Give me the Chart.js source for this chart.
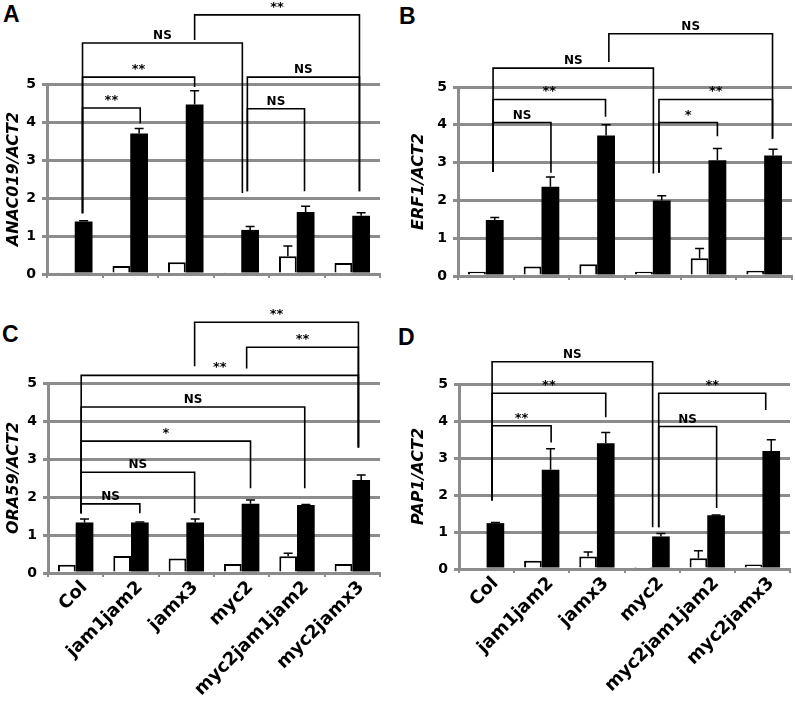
<!DOCTYPE html>
<html>
<head>
<meta charset="utf-8">
<script src="https://cdn.jsdelivr.net/npm/chart.js@4.4.1/dist/chart.umd.min.js"></script>
<style>
  body { margin: 0; background: #fff; width: 795px; height: 707px; position: relative; overflow: hidden; }
  canvas { position: absolute; }
  .letter { position: absolute; font: bold 23px "Liberation Sans", Arial, sans-serif; color: #000; }
</style>
</head>
<body>
<div class="letter" style="left:3px;top:1px">A</div>
<div class="letter" style="left:399px;top:3px">B</div>
<div class="letter" style="left:2px;top:321px">C</div>
<div class="letter" style="left:398px;top:324px">D</div>
<canvas id="chartA" width="395" height="300" style="left:0;top:0"></canvas>
<canvas id="chartB" width="400" height="300" style="left:395px;top:0"></canvas>
<canvas id="chartC" width="395" height="407" style="left:0;top:300px"></canvas>
<canvas id="chartD" width="400" height="407" style="left:395px;top:300px"></canvas>
<script>
// categories and tick labels
const genotypes = ['Col', 'jam1jam2', 'jamx3', 'myc2', 'myc2jam1jam2', 'myc2jamx3'];
const yTicks = [0, 1, 2, 3, 4, 5];

// A: ANAC019
const anac019Mock = [0.03, 0.21, 0.31, 0.03, 0.47, 0.29];
const anac019MockErr = [0, 0, 0, 0, 0.27, 0];
const anac019MeJA = [1.38, 3.70, 4.46, 1.16, 1.63, 1.53];
const anac019MeJAErr = [0.02, 0.13, 0.36, 0.09, 0.15, 0.08];
// comparisons: [from, to, level, from leg end, to leg end, label] (category units / y units)
const anac019Brackets = [
  [0.14, 1.18, 4.37, 1.60, 3.97, '**'],
  [0.14, 2.16, 5.18, 1.60, 4.92, '**'],
  [0.14, 3.02, 6.08, 1.60, 2.13, 'NS'],
  [2.16, 5.13, 6.82, 6.16, 2.18, '**'],
  [3.11, 5.13, 5.18, 2.18, 2.18, 'NS'],
  [3.11, 4.14, 4.35, 2.18, 2.18, 'NS']
];

// B: ERF1
const erf1Mock = [0.11, 0.25, 0.31, 0.11, 0.47, 0.14];
const erf1MockErr = [0, 0, 0, 0, 0.26, 0];
const erf1MeJA = [1.48, 2.36, 3.72, 2.00, 3.06, 3.19];
const erf1MeJAErr = [0.07, 0.26, 0.28, 0.12, 0.31, 0.16];
const erf1Brackets = [
  [0.13, 1.17, 4.06, 2.76, 2.73, 'NS'],
  [0.13, 2.15, 4.67, 2.76, 4.21, '**'],
  [0.13, 3.01, 5.50, 2.76, 2.71, 'NS'],
  [2.21, 5.15, 6.41, 5.66, 3.63, 'NS'],
  [3.11, 5.15, 4.67, 2.73, 3.63, '**'],
  [3.11, 4.16, 4.06, 2.73, 3.70, '*']
];

// C: ORA59
const ora59Mock = [0.22, 0.45, 0.38, 0.24, 0.44, 0.24];
const ora59MockErr = [0, 0, 0, 0, 0.08, 0];
const ora59MeJA = [1.33, 1.33, 1.33, 1.82, 1.79, 2.45];
const ora59MeJAErr = [0.09, 0.01, 0.09, 0.10, 0.01, 0.13];
const ora59Brackets = [
  [0.10, 1.16, 1.82, 1.57, 1.57, 'NS'],
  [0.10, 2.15, 2.65, 1.57, 1.57, 'NS'],
  [0.10, 3.16, 3.47, 1.57, 2.23, '*'],
  [0.10, 4.14, 4.37, 1.57, 2.23, 'NS'],
  [0.10, 5.11, 5.20, 1.57, 3.30, '**'],
  [3.09, 5.11, 5.94, 5.38, 3.30, '**'],
  [2.15, 5.11, 6.60, 5.44, 3.30, '**']
];

// D: PAP1
const pap1Mock = [0.04, 0.22, 0.34, 0.02, 0.29, 0.12];
const pap1MockErr = [0, 0, 0.12, 0, 0.20, 0];
const pap1MeJA = [1.24, 2.68, 3.40, 0.88, 1.45, 3.19];
const pap1MeJAErr = [0.02, 0.57, 0.29, 0.08, 0.01, 0.30];
const pap1Brackets = [
  [0.10, 1.17, 3.87, 1.85, 3.42, '**'],
  [0.10, 2.16, 4.75, 1.85, 4.10, '**'],
  [0.10, 3.01, 5.60, 1.85, 1.13, 'NS'],
  [3.12, 4.17, 3.85, 1.13, 1.65, 'NS'],
  [3.12, 5.06, 4.75, 1.13, 4.30, '**']
];

const GREY = '#8c8c8c';

// error bars and significance brackets
const annotate = {
  id: 'annotate',
  afterDatasetsDraw(chart, args, opts) {
    const ctx = chart.ctx;
    const xs = chart.scales.x, ys = chart.scales.y;
    ctx.save();
    ctx.strokeStyle = '#000';
    ctx.lineWidth = 1.5;
    opts.errors.forEach(function(errs, di) {
      const meta = chart.getDatasetMeta(di);
      meta.data.forEach(function(bar, i) {
        const e = errs[i];
        if (!e) return;
        const v = chart.data.datasets[di].data[i];
        const top = ys.getPixelForValue(v + e);
        ctx.beginPath();
        ctx.moveTo(bar.x, bar.y);
        ctx.lineTo(bar.x, top);
        ctx.moveTo(bar.x - 4.5, top);
        ctx.lineTo(bar.x + 4.5, top);
        ctx.stroke();
      });
    });

    const step = xs.width / chart.data.labels.length;
    const px = function(v) { return xs.left + (v + 0.5) * step; };
    ctx.lineWidth = 1.6;
    ctx.fillStyle = '#000';
    ctx.textAlign = 'center';
    ctx.textBaseline = 'alphabetic';
    opts.brackets.forEach(function(b) {
      const x1 = px(b[0]), x2 = px(b[1]);
      const yl = ys.getPixelForValue(b[2]);
      ctx.beginPath();
      ctx.moveTo(x1, ys.getPixelForValue(b[3]));
      ctx.lineTo(x1, yl);
      ctx.lineTo(x2, yl);
      ctx.lineTo(x2, ys.getPixelForValue(b[4]));
      ctx.stroke();
      ctx.font = b[5] === 'NS' ? 'bold 12px "DejaVu Sans"' : 'bold 13px "DejaVu Sans"';
      ctx.fillText(b[5], (x1 + x2) / 2, yl - 4);
    });
    ctx.restore();
  }
};

function makePanel(id, title, mock, mockErr, meja, mejaErr, brackets, showLabels, box) {
  return new Chart(document.getElementById(id), {
    type: 'bar',
    data: {
      labels: genotypes,
      datasets: [{
        label: 'mock',
        data: mock,
        backgroundColor: '#fff',
        borderColor: '#000',
        borderWidth: 2
      }, {
        label: 'MeJA',
        data: meja,
        backgroundColor: '#000',
        borderWidth: 0
      }]
    },
    options: {
      responsive: false,
      animation: false,
      categoryPercentage: 0.64,
      barPercentage: 1.0,
      layout: { padding: { top: box.top, left: box.left, right: box.right, bottom: 0 } },
      plugins: {
        legend: { display: false },
        tooltip: { enabled: false },
        annotate: { errors: [mockErr, mejaErr], brackets: brackets }
      },
      scales: {
        x: {
          afterFit: function(s) { s.height = box.xh; },
          border: { color: GREY, width: 3 },
          grid: { drawOnChartArea: false, drawTicks: true, tickLength: 4, color: GREY, lineWidth: 2 },
          ticks: {
            display: showLabels,
            autoSkip: false,
            minRotation: 45,
            maxRotation: 45,
            padding: 0,
            labelOffset: 9,
            color: '#000',
            font: { family: 'DejaVu Sans', weight: 'bold', size: 18 }
          }
        },
        y: {
          min: 0,
          max: 5,
          afterFit: function(s) { s.width = box.yw; },
          afterBuildTicks: function(s) { s.ticks = yTicks.map(function(v) { return { value: v }; }); },
          border: { color: GREY, width: 3 },
          grid: { color: GREY, lineWidth: 3, tickLength: 5 },
          ticks: {
            padding: 6,
            color: '#000',
            font: { family: 'DejaVu Sans', weight: 'bold', size: 14 }
          },
          title: {
            display: true,
            text: title,
            color: '#000',
            padding: { top: 4, bottom: 0 },
            font: { family: 'DejaVu Sans', weight: 'bold', style: 'italic', size: 16 }
          }
        }
      }
    },
    plugins: [annotate]
  });
}

makePanel('chartA', 'ANAC019/ACT2', anac019Mock, anac019MockErr, anac019MeJA, anac019MeJAErr,
  anac019Brackets, false, { top: 84, left: 0, right: 15, yw: 47, xh: 26 });
makePanel('chartB', 'ERF1/ACT2', erf1Mock, erf1MockErr, erf1MeJA, erf1MeJAErr,
  erf1Brackets, false, { top: 87, left: 10, right: 3, yw: 53, xh: 24 });
makePanel('chartC', 'ORA59/ACT2', ora59Mock, ora59MockErr, ora59MeJA, ora59MeJAErr,
  ora59Brackets, true, { top: 83, left: 0, right: 15, yw: 48, xh: 134 });
makePanel('chartD', 'PAP1/ACT2', pap1Mock, pap1MockErr, pap1MeJA, pap1MeJAErr,
  pap1Brackets, true, { top: 84, left: 10, right: 5, yw: 54, xh: 138 });
</script>
</body>
</html>
